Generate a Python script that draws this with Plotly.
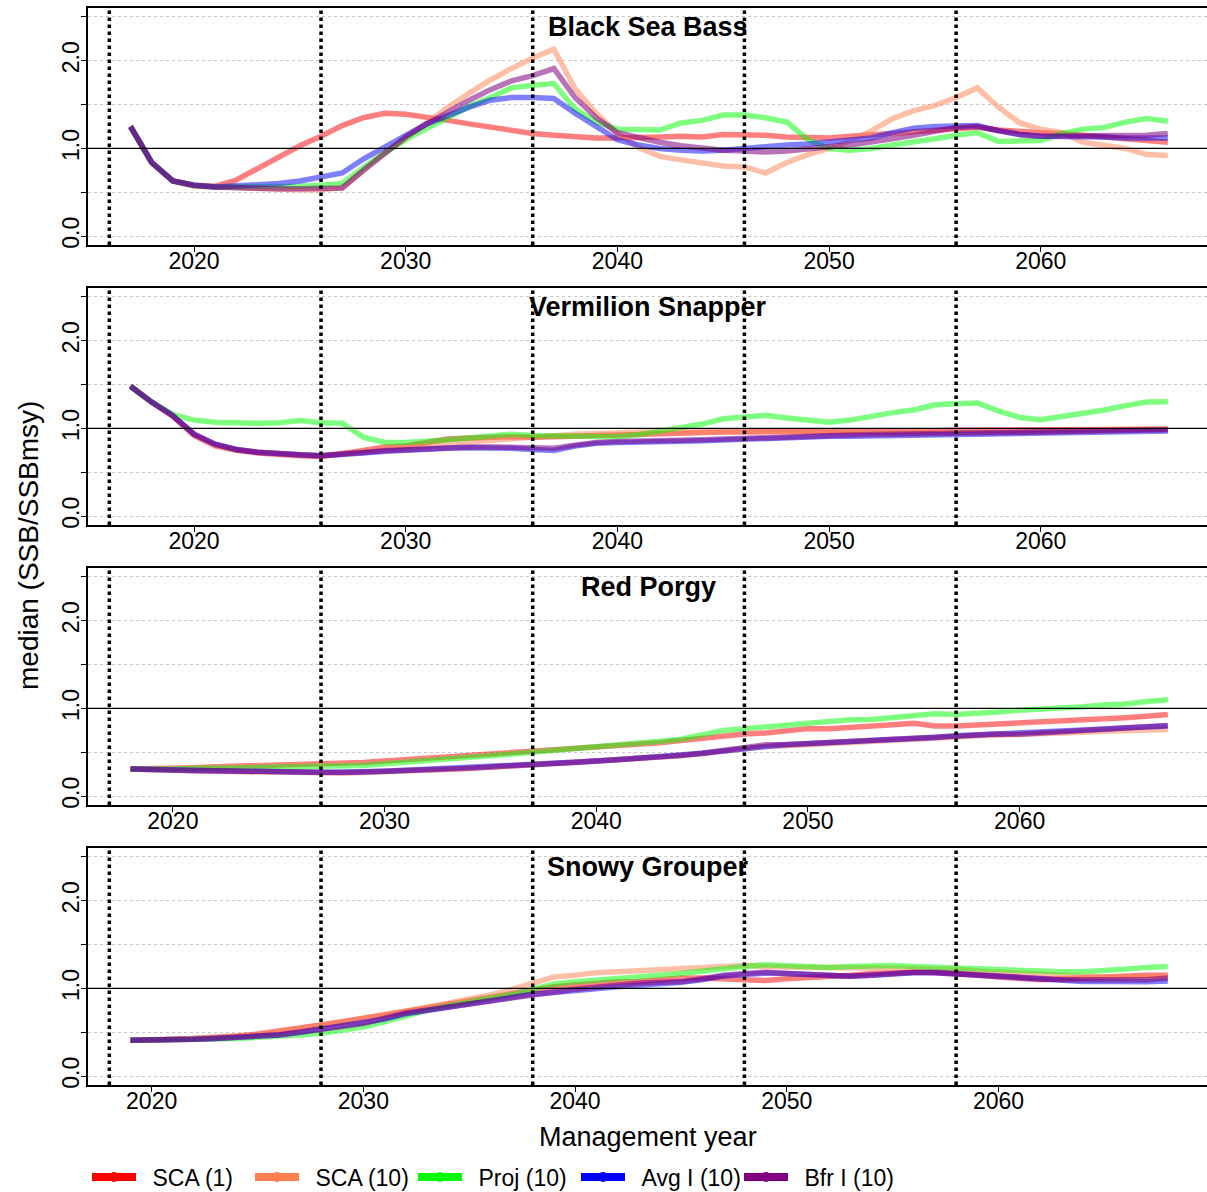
import plotly.graph_objects as go

W, H = 1207, 1192

series_names = ["SCA (1)", "SCA (10)", "Proj (10)", "Avg I (10)", "Bfr I (10)"]
line_colors = ["rgba(255,0,0,0.5)", "rgba(255,127,80,0.5)", "rgba(0,255,0,0.5)",
               "rgba(0,0,255,0.5)", "rgba(128,0,128,0.55)"]
legend_colors = ["#ff0000", "#ff7f50", "#00ff00", "#0000ff", "#800080"]

species = ["Black Sea Bass", "Vermilion Snapper", "Red Porgy", "Snowy Grouper"]
start_years = [2017, 2017, 2018, 2019]
management_years = [
    [2016, 2026, 2036, 2046, 2056],
    [2016, 2026, 2036, 2046, 2056],
    [2017, 2027, 2037, 2047, 2057],
    [2018, 2028, 2038, 2048, 2058],
]
x_ticks = [2020, 2030, 2040, 2050, 2060]
y_ticks = [0.0, 0.5, 1.0, 1.5, 2.0, 2.5]
y_ticklabels = ["0.0", "", "1.0", "", "2.0", ""]

# ---- Black Sea Bass (2017-2066)
bsb_sca1 = [1.25, 0.84, 0.63, 0.58, 0.57, 0.64, 0.77, 0.90, 1.03, 1.14,
            1.26, 1.35, 1.40, 1.39, 1.36, 1.32, 1.28, 1.24, 1.20, 1.17,
            1.15, 1.13, 1.12, 1.12, 1.12, 1.13, 1.14, 1.13, 1.16, 1.16,
            1.15, 1.13, 1.12, 1.12, 1.14, 1.15, 1.17, 1.19, 1.21, 1.23,
            1.24, 1.21, 1.19, 1.18, 1.17, 1.15, 1.13, 1.10, 1.08, 1.07]
bsb_sca10 = [1.25, 0.84, 0.63, 0.57, 0.56, 0.55, 0.55, 0.54, 0.53, 0.53,
             0.55, 0.75, 0.95, 1.12, 1.30, 1.47, 1.63, 1.78, 1.91, 2.03,
             2.13, 1.68, 1.40, 1.17, 1.01, 0.91, 0.87, 0.83, 0.80, 0.79,
             0.72, 0.84, 0.93, 1.00, 1.09, 1.20, 1.34, 1.43, 1.49, 1.58,
             1.69, 1.47, 1.29, 1.22, 1.18, 1.07, 1.03, 1.00, 0.93, 0.92]
bsb_proj = [1.25, 0.84, 0.63, 0.58, 0.56, 0.56, 0.57, 0.57, 0.57, 0.58,
            0.60, 0.78, 0.95, 1.10, 1.23, 1.36, 1.48, 1.58, 1.69, 1.72,
            1.74, 1.45, 1.30, 1.22, 1.21, 1.21, 1.29, 1.32, 1.38, 1.38,
            1.35, 1.30, 1.10, 1.00, 0.98, 1.00, 1.04, 1.07, 1.11, 1.15,
            1.18, 1.08, 1.08, 1.09, 1.17, 1.22, 1.24, 1.30, 1.34, 1.31]
bsb_avg = [1.25, 0.84, 0.63, 0.58, 0.56, 0.57, 0.58, 0.60, 0.63, 0.67,
           0.72, 0.88, 1.02, 1.15, 1.28, 1.38, 1.47, 1.55, 1.58, 1.58,
           1.57, 1.40, 1.25, 1.10, 1.04, 1.00, 0.98, 0.97, 0.98, 1.00,
           1.03, 1.04, 1.05, 1.07, 1.09, 1.12, 1.18, 1.23, 1.25, 1.25,
           1.26, 1.20, 1.16, 1.14, 1.14, 1.14, 1.13, 1.12, 1.12, 1.12]
bsb_bfr = [1.25, 0.84, 0.63, 0.58, 0.56, 0.55, 0.55, 0.54, 0.54, 0.54,
           0.55, 0.75, 0.95, 1.13, 1.28, 1.42, 1.55, 1.67, 1.77, 1.83,
           1.91, 1.58, 1.35, 1.18, 1.12, 1.07, 1.03, 1.00, 0.98, 0.97,
           0.96, 0.97, 1.00, 1.02, 1.04, 1.07, 1.11, 1.15, 1.20, 1.24,
           1.25, 1.20, 1.16, 1.14, 1.14, 1.14, 1.14, 1.14, 1.15, 1.17]

# ---- Vermilion Snapper (2017-2066)
vs_sca1 = [1.48, 1.30, 1.14, 0.92, 0.80, 0.75, 0.72, 0.70, 0.69, 0.68,
           0.71, 0.75, 0.79, 0.80, 0.84, 0.88, 0.89, 0.90, 0.905, 0.90,
           0.90, 0.91, 0.92, 0.92, 0.93, 0.94, 0.95, 0.95, 0.96, 0.96,
           0.96, 0.96, 0.965, 0.97, 0.97, 0.97, 0.97, 0.975, 0.975, 0.98,
           0.98, 0.975, 0.975, 0.98, 0.98, 0.985, 0.99, 0.99, 0.99, 0.995]
vs_sca10 = [1.48, 1.30, 1.14, 0.93, 0.81, 0.76, 0.73, 0.71, 0.70, 0.69,
            0.71, 0.73, 0.76, 0.78, 0.80, 0.83, 0.85, 0.86, 0.88, 0.90,
            0.92, 0.935, 0.94, 0.955, 0.96, 0.965, 0.97, 0.97, 0.97, 0.97,
            0.965, 0.96, 0.955, 0.95, 0.95, 0.95, 0.95, 0.955, 0.96, 0.96,
            0.96, 0.96, 0.955, 0.955, 0.96, 0.97, 0.98, 0.99, 0.99, 0.99]
vs_proj = [1.48, 1.30, 1.16, 1.095, 1.07, 1.06, 1.06, 1.065, 1.09, 1.065,
           1.06, 0.90, 0.84, 0.84, 0.85, 0.87, 0.89, 0.91, 0.935, 0.92,
           0.915, 0.91, 0.90, 0.905, 0.93, 0.97, 1.01, 1.05, 1.11, 1.125,
           1.15, 1.12, 1.09, 1.07, 1.095, 1.145, 1.18, 1.21, 1.27, 1.28,
           1.29, 1.20, 1.125, 1.10, 1.135, 1.17, 1.21, 1.26, 1.30, 1.305]
vs_avg = [1.48, 1.30, 1.145, 0.935, 0.82, 0.76, 0.73, 0.71, 0.70, 0.69,
          0.70, 0.72, 0.74, 0.755, 0.77, 0.775, 0.78, 0.78, 0.775, 0.76,
          0.75, 0.80, 0.83, 0.84, 0.84, 0.85, 0.855, 0.86, 0.87, 0.88,
          0.89, 0.90, 0.915, 0.91, 0.91, 0.915, 0.92, 0.925, 0.93, 0.935,
          0.935, 0.94, 0.94, 0.94, 0.945, 0.95, 0.955, 0.96, 0.965, 0.97]
vs_bfr = [1.48, 1.30, 1.145, 0.935, 0.82, 0.76, 0.73, 0.71, 0.70, 0.69,
          0.70, 0.725, 0.745, 0.76, 0.775, 0.78, 0.79, 0.79, 0.78, 0.775,
          0.775, 0.81, 0.84, 0.85, 0.85, 0.86, 0.865, 0.87, 0.88, 0.89,
          0.90, 0.905, 0.91, 0.92, 0.925, 0.93, 0.935, 0.94, 0.945, 0.95,
          0.95, 0.955, 0.96, 0.96, 0.965, 0.97, 0.975, 0.98, 0.98, 0.985]

# ---- Red Porgy (2018-2067)
rp_sca1 = [0.31, 0.31, 0.32, 0.325, 0.335, 0.34, 0.35, 0.36, 0.365, 0.37,
           0.375, 0.385, 0.40, 0.415, 0.43, 0.445, 0.46, 0.48, 0.50, 0.52,
           0.53, 0.545, 0.56, 0.57, 0.58, 0.61, 0.635, 0.66, 0.69, 0.71,
           0.72, 0.75, 0.77, 0.77, 0.79, 0.81, 0.815, 0.83, 0.80, 0.80,
           0.81, 0.83, 0.835, 0.845, 0.86, 0.87, 0.885, 0.895, 0.91, 0.93]
rp_sca10 = [0.31, 0.30, 0.295, 0.29, 0.285, 0.28, 0.275, 0.275, 0.27, 0.265,
            0.265, 0.27, 0.275, 0.285, 0.295, 0.305, 0.315, 0.33, 0.345, 0.36,
            0.37, 0.38, 0.395, 0.41, 0.42, 0.44, 0.46, 0.485, 0.51, 0.53,
            0.57, 0.575, 0.59, 0.60, 0.62, 0.63, 0.64, 0.65, 0.66, 0.68,
            0.69, 0.695, 0.70, 0.71, 0.72, 0.73, 0.74, 0.75, 0.755, 0.76]
rp_proj = [0.31, 0.305, 0.31, 0.315, 0.32, 0.325, 0.33, 0.33, 0.335, 0.335,
           0.34, 0.35, 0.37, 0.385, 0.40, 0.42, 0.44, 0.46, 0.48, 0.50,
           0.52, 0.535, 0.55, 0.575, 0.60, 0.625, 0.65, 0.70, 0.75, 0.77,
           0.79, 0.81, 0.835, 0.86, 0.87, 0.875, 0.895, 0.91, 0.94, 0.93,
           0.94, 0.96, 0.98, 0.99, 1.00, 1.02, 1.04, 1.05, 1.08, 1.10]
rp_avg = [0.31, 0.30, 0.30, 0.295, 0.29, 0.29, 0.285, 0.28, 0.275, 0.27,
          0.27, 0.275, 0.285, 0.295, 0.305, 0.315, 0.325, 0.335, 0.35, 0.365,
          0.38, 0.39, 0.40, 0.415, 0.43, 0.445, 0.465, 0.49, 0.515, 0.54,
          0.58, 0.59, 0.60, 0.61, 0.63, 0.64, 0.65, 0.66, 0.67, 0.69,
          0.70, 0.71, 0.71, 0.72, 0.735, 0.75, 0.765, 0.78, 0.795, 0.80]
rp_bfr = [0.31, 0.30, 0.295, 0.29, 0.29, 0.285, 0.285, 0.28, 0.275, 0.27,
          0.27, 0.275, 0.28, 0.29, 0.30, 0.31, 0.32, 0.33, 0.345, 0.365,
          0.375, 0.385, 0.40, 0.415, 0.425, 0.445, 0.465, 0.49, 0.52, 0.54,
          0.585, 0.585, 0.60, 0.615, 0.635, 0.64, 0.65, 0.66, 0.67, 0.69,
          0.705, 0.71, 0.705, 0.72, 0.73, 0.75, 0.76, 0.78, 0.80, 0.805]

# ---- Snowy Grouper (2019-2068)
sg_sca1 = [0.41, 0.41, 0.42, 0.43, 0.44, 0.455, 0.48, 0.51, 0.55, 0.585,
           0.62, 0.66, 0.70, 0.755, 0.79, 0.83, 0.87, 0.91, 0.95, 0.99,
           1.02, 1.04, 1.06, 1.075, 1.08, 1.10, 1.12, 1.12, 1.11, 1.10,
           1.09, 1.11, 1.12, 1.13, 1.15, 1.17, 1.18, 1.185, 1.18, 1.17,
           1.15, 1.13, 1.11, 1.10, 1.11, 1.12, 1.13, 1.15, 1.15, 1.15]
sg_sca10 = [0.41, 0.41, 0.42, 0.43, 0.44, 0.455, 0.475, 0.50, 0.54, 0.58,
            0.61, 0.645, 0.69, 0.74, 0.785, 0.83, 0.875, 0.925, 0.99, 1.06,
            1.13, 1.15, 1.18, 1.19, 1.20, 1.21, 1.22, 1.24, 1.25, 1.26,
            1.25, 1.24, 1.24, 1.24, 1.24, 1.24, 1.23, 1.23, 1.22, 1.22,
            1.20, 1.185, 1.17, 1.16, 1.15, 1.14, 1.13, 1.13, 1.13, 1.14]
sg_proj = [0.41, 0.41, 0.41, 0.42, 0.425, 0.43, 0.44, 0.45, 0.47, 0.49,
           0.52, 0.56, 0.62, 0.69, 0.75, 0.80, 0.85, 0.89, 0.93, 0.99,
           1.05, 1.075, 1.09, 1.11, 1.13, 1.15, 1.17, 1.20, 1.22, 1.25,
           1.27, 1.26, 1.25, 1.24, 1.25, 1.26, 1.26, 1.25, 1.24, 1.23,
           1.23, 1.21, 1.20, 1.19, 1.19, 1.19, 1.20, 1.22, 1.24, 1.25]
sg_avg = [0.41, 0.41, 0.415, 0.42, 0.43, 0.44, 0.45, 0.47, 0.50, 0.535,
          0.565, 0.60, 0.65, 0.71, 0.75, 0.785, 0.825, 0.865, 0.90, 0.935,
          0.955, 0.98, 1.00, 1.02, 1.035, 1.05, 1.07, 1.10, 1.14, 1.16,
          1.175, 1.17, 1.16, 1.145, 1.14, 1.15, 1.17, 1.18, 1.18, 1.165,
          1.15, 1.14, 1.12, 1.10, 1.085, 1.08, 1.08, 1.075, 1.075, 1.085]
sg_bfr = [0.41, 0.41, 0.415, 0.42, 0.43, 0.44, 0.45, 0.47, 0.50, 0.535,
          0.565, 0.60, 0.66, 0.72, 0.755, 0.79, 0.83, 0.87, 0.905, 0.94,
          0.96, 0.99, 1.015, 1.04, 1.06, 1.07, 1.075, 1.11, 1.15, 1.17,
          1.185, 1.17, 1.16, 1.14, 1.14, 1.15, 1.175, 1.185, 1.185, 1.17,
          1.15, 1.14, 1.13, 1.12, 1.10, 1.10, 1.095, 1.09, 1.10, 1.12]

panel_data = [
    [bsb_sca1, bsb_sca10, bsb_proj, bsb_avg, bsb_bfr],
    [vs_sca1, vs_sca10, vs_proj, vs_avg, vs_bfr],
    [rp_sca1, rp_sca10, rp_proj, rp_avg, rp_bfr],
    [sg_sca1, sg_sca10, sg_proj, sg_avg, sg_bfr],
]

FONT = "Liberation Sans, Arial, sans-serif"
fig = go.Figure()

px_per_year = 21.17
left_px = 88
x_dom = [left_px / W, 1.0]
shapes = []
annotations = []
layout_axes = {}

for k in range(4):
    top = 8 + 280 * k
    bot = 245 + 280 * k
    xa = "x" if k == 0 else f"x{k+1}"
    ya = "y" if k == 0 else f"y{k+1}"
    xname = "xaxis" if k == 0 else f"xaxis{k+1}"
    yname = "yaxis" if k == 0 else f"yaxis{k+1}"
    years = list(range(start_years[k], start_years[k] + len(panel_data[k][0])))
    x0 = start_years[k] - 2.007
    x1 = x0 + (W - left_px) / px_per_year
    for s in range(5):
        fig.add_trace(go.Scatter(
            x=years, y=panel_data[k][s], mode="lines", xaxis=xa, yaxis=ya,
            line=dict(color=line_colors[s], width=5.5), showlegend=False,
            hoverinfo="skip"))
    layout_axes[xname] = dict(
        domain=x_dom, anchor=ya, range=[x0, x1], tickvals=x_ticks,
        ticks="outside", ticklen=5, tickwidth=1, tickcolor="black",
        showline=True, linecolor="black", linewidth=1.5, mirror=True,
        showgrid=False, zeroline=False, automargin=False,
        ticklabelstandoff=-10,
        tickfont=dict(family=FONT, size=23, color="black"))
    layout_axes[yname] = dict(
        domain=[1 - bot / H, 1 - top / H], anchor=xa, range=[-0.1, 2.6],
        tickvals=y_ticks, ticktext=y_ticklabels, tickangle=-90,
        ticks="outside", ticklen=5, tickwidth=1, tickcolor="black",
        showline=True, linecolor="black", linewidth=1.5, mirror=False,
        showgrid=True, gridcolor="#c8c8c8", griddash="dot", gridwidth=1,
        zeroline=False, automargin=False, ticklabelstandoff=-7,
        tickfont=dict(family=FONT, size=23, color="black"))
    for my in management_years[k]:
        shapes.append(dict(type="line", xref=xa, yref=f"{ya} domain",
                           x0=my, x1=my, y0=0, y1=1,
                           line=dict(color="black", width=3.5, dash="dot")))
    shapes.append(dict(type="line", xref=f"{xa} domain", yref=ya,
                       x0=0, x1=1, y0=1.0, y1=1.0,
                       line=dict(color="black", width=1.3)))
    annotations.append(dict(text=f"<b>{species[k]}</b>", xref="paper", yref="paper",
                            x=648 / W, y=1 - (27 + 280 * k) / H,
                            xanchor="center", yanchor="middle", showarrow=False,
                            font=dict(family=FONT, size=27, color="black")))

for s in range(5):
    fig.add_trace(go.Scatter(
        x=[None], y=[None], mode="lines+markers", name="\u2002" + series_names[s],
        line=dict(color=legend_colors[s], width=8),
        marker=dict(color=legend_colors[s], size=10), showlegend=True))

annotations.append(dict(text="Management year", xref="paper", yref="paper",
                        x=648 / W, y=1 - 1137 / H, xanchor="center", yanchor="middle",
                        showarrow=False, font=dict(family=FONT, size=27, color="black")))
annotations.append(dict(text="median (SSB/SSBmsy)", xref="paper", yref="paper",
                        x=28 / W, y=1 - 546 / H, xanchor="center", yanchor="middle",
                        textangle=-90, showarrow=False,
                        font=dict(family=FONT, size=28, color="black")))

fig.update_layout(
    width=W, height=H, margin=dict(l=0, r=0, t=0, b=0, autoexpand=False),
    paper_bgcolor="white", plot_bgcolor="white",
    shapes=shapes, annotations=annotations,
    legend=dict(orientation="h", x=87 / W, y=1 - 1177 / H, xanchor="left",
                yanchor="middle", entrywidth=104, entrywidthmode="pixels",
                font=dict(family=FONT, size=23, color="black"),
                bgcolor="rgba(0,0,0,0)", itemwidth=44),
    **layout_axes,
)

fig.write_html(
    "out.html",
    config={"displayModeBar": False},
    post_script="document.body.style.margin='0px';"
                "document.body.style.overflow='hidden';"
                "document.documentElement.style.overflow='hidden';",
)
